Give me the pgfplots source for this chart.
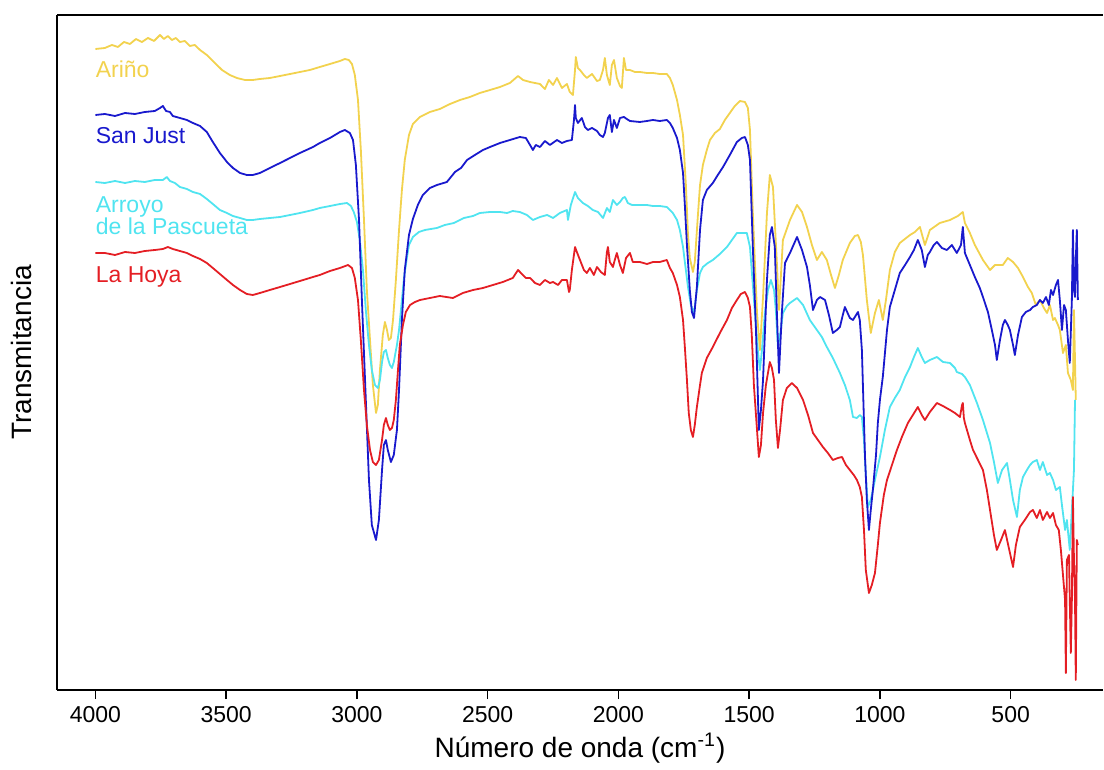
\documentclass[border=0pt]{standalone}
\usepackage{fontspec}
\setmainfont{Liberation Sans}
\usepackage{pgfplots}
\pgfplotsset{compat=1.18}
\usepackage{pgfplotstable}

\definecolor{arino}{RGB}{242,210,78}
\definecolor{sanjust}{RGB}{25,25,205}
\definecolor{arroyo}{RGB}{80,228,240}
\definecolor{hoya}{RGB}{228,30,36}

% spectra: wavenumber (cm-1) vs transmittance (arbitrary, offset)
\pgfplotstableread{
wn T
4000 641
3964 642
3937 645
3914 643
3891 648
3868 646
3845 651
3822 648
3799 652
3776 649
3753 655
3738 651
3723 654
3708 650
3692 652
3677 648
3658 649
3639 644
3620 645
3600 640
3574 635
3543 627
3516 620
3486 615
3459 612
3428 610
3398 610
3371 611
3333 612
3294 614
3256 616
3218 618
3180 620
3142 623
3103 626
3065 629
3046 631
3031 630
3019 626
3008 615
2996 590
2985 540
2973 470
2962 400
2950 350
2939 305
2927 277
2920 285
2912 320
2901 355
2893 368
2885 360
2878 350
2870 352
2862 370
2851 410
2839 460
2828 500
2817 530
2801 555
2786 566
2759 573
2721 578
2683 581
2644 586
2606 590
2568 593
2530 597
2491 600
2453 603
2415 607
2384 614
2365 610
2338 608
2300 606
2281 601
2266 610
2250 605
2235 612
2216 602
2197 606
2186 598
2174 595
2166 620
2163 633
2155 622
2147 620
2132 615
2121 612
2101 616
2082 609
2071 610
2059 620
2052 632
2044 615
2033 605
2025 625
2017 630
2006 612
1994 604
1987 602
1979 632
1971 620
1956 620
1937 618
1918 618
1891 617
1868 617
1842 616
1815 616
1803 612
1792 605
1776 590
1765 575
1753 555
1742 505
1734 455
1727 432
1715 418
1708 428
1696 475
1688 505
1677 525
1662 540
1650 550
1631 557
1612 561
1593 570
1574 577
1555 584
1535 589
1516 588
1505 582
1497 560
1486 477
1470 377
1459 340
1447 393
1432 477
1421 515
1409 503
1394 427
1386 380
1371 450
1344 470
1317 485
1298 478
1279 463
1260 445
1241 430
1222 438
1203 430
1187 415
1172 402
1157 415
1142 430
1115 447
1096 454
1084 455
1073 448
1065 435
1050 390
1035 357
1019 377
1004 390
989 370
977 390
962 420
943 438
924 447
885 455
866 458
847 463
828 445
809 460
771 467
732 470
702 474
683 478
675 467
656 457
637 445
606 430
579 420
560 425
530 425
511 432
491 428
472 422
453 413
434 403
419 397
404 385
388 390
373 382
361 377
350 385
338 370
331 372
319 365
312 360
300 337
289 345
281 317
270 310
262 300
258 380
254 330
251 290
}\arino

\pgfplotstableread{
wn T
4000 575
3964 576
3925 574
3887 577
3849 576
3811 578
3773 579
3753 582
3742 584
3730 579
3715 578
3704 574
3677 572
3650 570
3627 567
3600 564
3574 558
3551 548
3524 537
3497 528
3474 522
3447 517
3421 515
3398 515
3371 517
3333 522
3294 527
3256 532
3218 537
3168 543
3142 547
3103 552
3065 558
3046 560
3027 557
3015 550
3004 525
2992 470
2981 390
2966 290
2954 210
2943 165
2927 150
2916 170
2904 220
2897 245
2889 250
2882 240
2870 228
2859 235
2847 260
2839 300
2828 370
2817 420
2801 455
2786 471
2767 485
2748 495
2721 502
2694 505
2656 508
2625 518
2602 522
2579 530
2549 535
2518 540
2491 543
2453 547
2415 550
2377 553
2354 552
2338 545
2327 540
2316 545
2300 543
2281 549
2262 545
2235 550
2216 547
2197 549
2178 550
2170 570
2166 585
2163 572
2155 567
2140 572
2128 563
2117 560
2101 562
2082 559
2071 555
2059 553
2052 557
2040 572
2033 575
2025 558
2017 570
2006 562
1994 572
1979 573
1968 571
1956 569
1918 568
1891 569
1868 570
1842 569
1815 570
1803 567
1792 562
1776 552
1765 540
1753 517
1746 485
1738 445
1727 400
1719 378
1711 372
1700 403
1688 460
1677 490
1662 500
1639 507
1620 515
1600 523
1574 535
1547 548
1528 552
1516 553
1505 545
1497 530
1486 443
1474 360
1463 260
1455 280
1447 310
1432 410
1421 455
1413 463
1402 443
1394 377
1386 317
1375 377
1363 427
1344 437
1317 453
1298 440
1279 423
1268 405
1256 380
1241 390
1229 393
1210 390
1195 375
1180 357
1165 360
1153 363
1142 375
1134 383
1115 372
1103 370
1084 378
1077 370
1069 340
1057 233
1050 190
1042 160
1035 180
1027 200
1015 235
1008 267
1000 290
989 313
973 360
962 383
943 400
924 417
904 425
885 433
870 440
855 450
840 440
828 423
817 435
809 438
794 445
782 448
763 442
744 440
725 445
706 437
690 445
683 463
675 437
656 425
637 413
618 402
606 393
587 378
572 360
560 345
553 330
541 350
530 365
522 370
511 365
503 360
491 345
484 335
472 355
457 373
442 378
426 380
415 383
400 385
388 390
377 387
365 393
354 385
346 400
338 395
327 405
319 410
312 390
304 360
296 385
289 380
281 350
274 327
266 390
262 460
258 400
254 393
251 430
247 460
243 390
}\sanjust

\pgfplotstableread{
wn T
4000 508
3964 507
3925 509
3887 507
3849 509
3811 508
3773 510
3742 510
3727 513
3715 509
3696 507
3677 503
3650 501
3627 498
3600 496
3574 491
3551 486
3524 480
3497 477
3474 474
3447 472
3421 470
3398 470
3371 471
3333 472
3294 473
3256 475
3218 477
3168 480
3142 482
3103 484
3065 486
3038 487
3023 484
3012 478
3000 468
2989 450
2977 420
2966 380
2954 345
2943 320
2931 305
2920 302
2912 310
2904 328
2897 338
2889 340
2882 332
2874 325
2866 322
2859 328
2847 345
2839 360
2828 390
2820 412
2809 432
2801 445
2786 453
2763 458
2740 460
2694 462
2664 465
2629 467
2591 472
2556 474
2530 477
2491 478
2453 478
2426 477
2404 479
2377 478
2350 475
2327 470
2300 473
2273 475
2250 472
2224 477
2197 480
2193 470
2182 485
2166 498
2155 492
2136 487
2117 484
2098 480
2078 478
2059 472
2044 482
2033 478
2021 490
2006 485
1994 488
1983 492
1975 493
1964 487
1948 485
1918 485
1891 485
1868 484
1842 484
1815 483
1803 480
1792 477
1776 470
1765 460
1753 443
1746 428
1734 403
1723 385
1711 377
1700 400
1688 417
1677 423
1658 427
1639 430
1612 436
1585 443
1566 450
1547 457
1528 457
1509 457
1497 443
1486 405
1478 377
1467 340
1459 320
1451 340
1440 377
1428 400
1417 410
1405 400
1398 380
1390 343
1379 360
1371 377
1356 384
1344 387
1317 392
1294 385
1268 370
1241 360
1222 353
1203 343
1180 332
1153 317
1134 305
1115 290
1103 273
1088 272
1077 275
1069 273
1061 250
1054 215
1046 183
1035 190
1027 200
1015 215
1000 233
981 260
962 283
943 292
924 300
904 313
885 323
870 333
855 342
840 333
828 327
809 330
782 333
759 328
732 327
713 322
706 318
686 316
675 313
656 305
629 287
606 270
579 247
564 228
549 207
533 220
514 227
503 210
491 190
476 173
465 200
453 213
438 220
426 225
415 228
400 230
388 220
377 228
361 215
350 217
338 210
327 200
312 203
304 185
292 160
285 170
274 140
266 180
258 220
254 290
}\arroyo

\pgfplotstableread{
wn T
4000 437
3964 437
3925 435
3887 438
3849 437
3811 439
3773 440
3742 441
3723 443
3704 441
3677 439
3650 437
3627 434
3600 431
3574 427
3551 422
3524 416
3497 410
3474 405
3447 400
3421 396
3398 395
3371 397
3333 400
3294 403
3256 406
3218 409
3168 413
3142 415
3103 419
3065 422
3034 425
3019 422
3008 412
2996 390
2985 350
2973 300
2962 265
2950 240
2939 228
2927 225
2916 230
2904 250
2897 265
2889 272
2882 265
2874 260
2866 262
2859 270
2851 290
2843 320
2836 345
2824 365
2813 378
2797 385
2778 388
2759 390
2721 392
2683 394
2633 392
2595 397
2556 400
2518 402
2480 405
2442 408
2404 412
2384 420
2369 416
2354 412
2338 412
2319 407
2300 405
2281 410
2262 407
2250 408
2231 405
2216 410
2197 410
2189 398
2186 400
2178 420
2166 443
2159 438
2147 430
2132 420
2121 417
2109 422
2094 415
2082 423
2067 418
2052 415
2044 438
2040 443
2033 428
2021 423
2014 430
2006 437
1994 425
1983 417
1971 432
1956 437
1945 428
1918 428
1891 426
1868 428
1842 428
1815 430
1803 422
1792 417
1776 405
1765 393
1753 370
1746 343
1738 310
1731 277
1723 260
1715 253
1708 265
1700 283
1688 305
1681 317
1662 332
1639 343
1612 357
1585 370
1566 382
1547 390
1532 396
1516 398
1505 392
1497 383
1490 355
1482 305
1470 260
1463 233
1455 245
1447 277
1436 305
1421 328
1413 322
1405 310
1398 270
1390 242
1382 260
1371 290
1356 302
1337 307
1317 302
1294 290
1275 275
1256 257
1237 250
1218 243
1199 237
1180 230
1161 232
1145 233
1130 225
1115 220
1100 215
1088 210
1077 203
1069 193
1061 160
1054 120
1042 97
1031 105
1019 117
1008 145
1000 167
985 195
973 210
954 225
935 240
916 253
893 267
874 275
855 283
840 275
828 270
809 278
782 287
759 284
732 280
713 277
694 273
686 285
683 287
679 272
675 267
656 250
644 240
625 230
606 220
591 200
579 180
564 155
553 140
537 150
522 160
507 142
491 123
480 145
465 163
446 170
426 178
415 180
400 172
388 180
377 170
361 178
350 172
338 177
327 165
316 160
308 140
300 115
292 90
289 17
285 130
277 135
274 90
270 37
266 90
262 193
258 130
254 90
251 10
247 150
243 145
}\hoya

\begin{document}
\begin{tikzpicture}
\begin{axis}[
    scale only axis,
    width=523bp, height=337.5bp,
    x dir=reverse,
    xmin=147, xmax=4147,
    ymin=0, ymax=675,
    axis x line=box, axis y line=left,
    axis line style={-, line width=0.75bp, black},
    xtick={500,1000,...,4000},
    xtick pos=bottom,
    tick align=outside,
    major tick length=4.5bp,
    tick style={line width=0.75bp, black},
    ytick=\empty,
    /pgf/number format/assume math mode=true,
    /pgf/number format/set thousands separator={},
    ticklabel style={font=\fontsize{11.5bp}{13bp}\selectfont},
    xlabel={Número de onda (cm\textsuperscript{-1})},
    ylabel={Transmitancia},
    label style={font=\fontsize{14bp}{16bp}\selectfont},
    xlabel style={at={(axis description cs:0.5,-0.086)}, anchor=center},
    ylabel style={at={(axis description cs:-0.0335,0.5)}, anchor=center},
    every axis plot/.append style={line width=0.9bp, line join=round},
    clip=false,
]
\addplot[arino, no markers] table[x=wn, y=T] {\arino};
\addplot[arroyo, no markers] table[x=wn, y=T] {\arroyo};
\addplot[sanjust, no markers] table[x=wn, y=T] {\sanjust};
\addplot[hoya, no markers] table[x=wn, y=T] {\hoya};

\begin{scope}[every node/.style={anchor=base west, inner sep=0pt, font=\fontsize{11.5bp}{13bp}\selectfont}]
\node[text=arino] at (axis cs:4000,612) {Ariño};
\node[text=sanjust] at (axis cs:4000,546) {San Just};
\node[text=arroyo] at (axis cs:4000,477) {Arroyo};
\node[text=arroyo] at (axis cs:4000,455) {de la Pascueta};
\node[text=hoya] at (axis cs:4000,407) {La Hoya};
\end{scope}
\end{axis}
\path (current axis.south west) +(-28.5bp,-38.5bp);
\path (current axis.north east) +(0.5bp,7.5bp);
\end{tikzpicture}
\end{document}
